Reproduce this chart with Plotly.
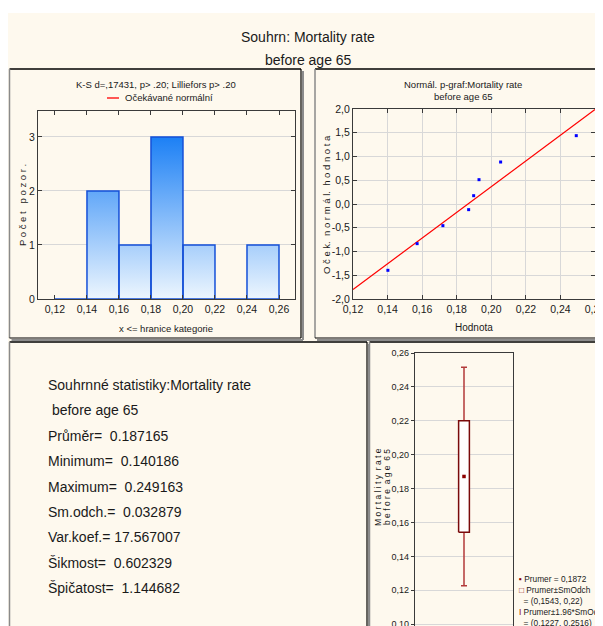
import plotly.graph_objects as go

# ---------------- data ----------------
bin_edges = [0.12, 0.14, 0.16, 0.18, 0.20, 0.22, 0.24, 0.26]
bin_counts = [0, 2, 1, 3, 1, 0, 1]

obs_values = [0.140186, 0.1571, 0.1720, 0.1869, 0.1898, 0.1929, 0.2054, 0.249163]
expected_normal = [-1.396, -0.835, -0.456, -0.119, 0.175, 0.512, 0.884, 1.439]
fit_line_x = [0.12, 0.26]
fit_line_y = [-1.80, 1.99]

stat_mean = 0.187165
stat_min = 0.140186
stat_max = 0.249163
stat_sd = 0.032879
stat_cv = 17.567007
stat_skew = 0.602329
stat_kurt = 1.144682

hist_xticks = [0.12, 0.14, 0.16, 0.18, 0.20, 0.22, 0.24, 0.26]
hist_yticks = [0, 1, 2, 3]
prob_yticks = [-2.0, -1.5, -1.0, -0.5, 0.0, 0.5, 1.0, 1.5, 2.0]
box_yticks = [0.10, 0.12, 0.14, 0.16, 0.18, 0.20, 0.22, 0.24, 0.26]

# ---------------- helpers ----------------
W, H = 603, 626
OFF = 8  # the page body adds an 8 px margin; positions below are window pixels
FONT = "Liberation Sans Narrow, Arial Narrow, Liberation Sans, Arial, sans-serif"
CREAM = "#FEF9EE"
TXT = "#1a1a1a"


def X(px):
    return (px - OFF) / W


def Y(py):
    return 1 - (py - OFF) / H


def comma(v, fmt):
    return format(v, fmt).replace(".", ",")


fig = go.Figure()
shapes = []
annotations = []

# page background
shapes.append(dict(type="rect", xref="paper", yref="paper", layer="below",
                   x0=X(8), x1=X(640), y0=Y(13), y1=Y(660),
                   fillcolor=CREAM, line=dict(width=0)))


def panel(x0, y0, x1, y1):
    shapes.append(dict(type="line", xref="paper", yref="paper", x0=X(x0), x1=X(x1), y0=Y(y0), y1=Y(y0),
                       line=dict(color="#000000", width=1.5)))
    shapes.append(dict(type="line", xref="paper", yref="paper", x0=X(x0), x1=X(x0), y0=Y(y0), y1=Y(y1),
                       line=dict(color="#8a8a8a", width=1.5)))
    shapes.append(dict(type="line", xref="paper", yref="paper", x0=X(x1 + 2), x1=X(x1 + 2), y0=Y(y0 + 2), y1=Y(y1 + 2),
                       line=dict(color="#8c8c8c", width=2)))
    shapes.append(dict(type="line", xref="paper", yref="paper", x0=X(x0 + 2), x1=X(x1 + 2), y0=Y(y1 + 2), y1=Y(y1 + 2),
                       line=dict(color="#8c8c8c", width=2)))
    shapes.append(dict(type="line", xref="paper", yref="paper", x0=X(x1), x1=X(x1), y0=Y(y0), y1=Y(y1),
                       line=dict(color="#000000", width=1.2)))
    shapes.append(dict(type="line", xref="paper", yref="paper", x0=X(x0), x1=X(x1), y0=Y(y1), y1=Y(y1),
                       line=dict(color="#000000", width=1.2)))


panel(9.5, 69, 301, 338)
panel(315, 69, 660, 338)
panel(9.5, 342, 367, 680)
panel(369.5, 342, 660, 680)


def text(px, py, s, size=11, xanchor="center", angle=0, color=TXT):
    annotations.append(dict(xref="paper", yref="paper", x=X(px), y=Y(py), text=s,
                            showarrow=False, xanchor=xanchor, yanchor="middle",
                            textangle=angle, font=dict(family=FONT, size=size, color=color)))


# main title
text(308, 37, "Souhrn: Mortality rate", size=14)
text(308, 60, "before age 65", size=14)

# ---------------- histogram ----------------
px_, py_ = [], []
for i, c in enumerate(bin_counts):
    l, r = bin_edges[i], bin_edges[i + 1]
    px_ += [l, l, r, r, l, None]
    py_ += [0, c, c, 0, 0, None]
fig.add_trace(go.Scatter(
    x=px_, y=py_, mode="lines", fill="toself",
    line=dict(color="#1550d8", width=1.5),
    fillgradient=dict(type="vertical", colorscale=[[0, "#edf6fe"], [1, "#1c80f5"]],
                      start=0, stop=max(bin_counts)),
    xaxis="x", yaxis="y", showlegend=False, hoverinfo="skip"))

text(156, 84, "K-S d=,17431, p> .20; Lilliefors p> .20", size=9.5)
shapes.append(dict(type="line", xref="paper", yref="paper", x0=X(107), x1=X(119), y0=Y(98), y1=Y(98),
                   line=dict(color="#ff2020", width=1.5)))
text(123, 98, "Očekávané normální", size=9.5, xanchor="left")
text(22, 205, "P o č e t   p o z o r .", size=9.5, angle=-90)
text(166, 328, "x <= hranice kategorie", size=9.5)

# ---------------- normal probability plot ----------------
fig.add_trace(go.Scatter(x=fit_line_x, y=fit_line_y, mode="lines",
                         line=dict(color="#ff0000", width=1.2),
                         xaxis="x2", yaxis="y2", showlegend=False, hoverinfo="skip"))
fig.add_trace(go.Scatter(x=obs_values, y=expected_normal, mode="markers",
                         marker=dict(color="#0000ff", size=3, symbol="square"),
                         xaxis="x2", yaxis="y2", showlegend=False))
text(463, 84, "Normál. p-graf:Mortality rate", size=9.5)
text(463, 96, "before age 65", size=9.5)
text(326, 205, "O č e k.  n o r m á l.  h o d n o t a", size=9.5, angle=-90)
text(474, 327, "Hodnota", size=10)

# ---------------- summary text ----------------
lines = [
    "Souhrnné statistiky:Mortality rate",
    " before age 65",
    f"Průměr=  {stat_mean:.6f}",
    f"Minimum=  {stat_min:.6f}",
    f"Maximum=  {stat_max:.6f}",
    f"Sm.odch.=  {stat_sd:.6f}",
    f"Var.koef.= {stat_cv:.6f}",
    f"Šikmost=  {stat_skew:.6f}",
    f"Špičatost=  {stat_kurt:.6f}",
]
for i, s in enumerate(lines):
    text(46, 385 + i * 25.4, s, size=14, xanchor="left")

# ---------------- box plot ----------------
box_lo = stat_mean - stat_sd
box_hi = stat_mean + stat_sd
wh_lo = stat_mean - 1.96 * stat_sd
wh_hi = stat_mean + 1.96 * stat_sd
bw = 0.11
fig.add_trace(go.Scatter(x=[0], y=[stat_mean], mode="markers", marker=dict(size=1, color="rgba(0,0,0,0)"),
                         error_y=dict(type="data", symmetric=False, array=[wh_hi - stat_mean],
                                      arrayminus=[stat_mean - wh_lo], color="#b23a3a", thickness=1.5, width=3),
                         xaxis="x3", yaxis="y3", showlegend=False, hoverinfo="skip"))
fig.add_trace(go.Scatter(x=[-bw / 2, -bw / 2, bw / 2, bw / 2, -bw / 2],
                         y=[box_lo, box_hi, box_hi, box_lo, box_lo],
                         mode="lines", fill="toself", fillcolor="#ffffff",
                         line=dict(color="#7a0a0a", width=1.5),
                         xaxis="x3", yaxis="y3", showlegend=False, hoverinfo="skip"))
fig.add_trace(go.Scatter(x=[0], y=[stat_mean], mode="markers",
                         marker=dict(color="#8b0000", size=3.5, symbol="square"),
                         xaxis="x3", yaxis="y3", showlegend=False))

text(378, 487, "M o r t a l i t y  r a t e", size=8.5, angle=-90)
text(387, 487, "b e f o r e  a g e  6 5", size=8.5, angle=-90)

RED = "#8b0000"
LS = 8.3
text(517, 579, f'<span style="color:{RED}">▪</span> Prumer = {comma(stat_mean, ".4f")}', size=LS, xanchor="left")
text(517, 590, f'<span style="color:{RED}">□</span> Prumer±SmOdch', size=LS, xanchor="left")
text(517, 601, f'  = ({comma(box_lo, ".4g")}, {comma(box_hi, ".4g")})', size=LS, xanchor="left")
text(517, 612, f'<span style="color:{RED}">I</span> Prumer±1.96*SmOdch', size=LS, xanchor="left")
text(517, 623, f'  = ({comma(wh_lo, ".4g")}, {comma(wh_hi, ".4g")})', size=LS, xanchor="left")

# ---------------- axes ----------------
axis_common = dict(showline=True, linecolor="#3a3a3a", linewidth=1.2, mirror="allticks",
                   ticks="inside", ticklen=4, tickcolor="#3a3a3a", zeroline=False, automargin=False,
                   tickfont=dict(family=FONT, size=10.5, color=TXT))

box_px_top, box_px_bot = 353, 634
box_step_px = 33.9  # pixels per 0.02 in the reference
box_ymin = 0.26 - (box_px_bot - box_px_top) / box_step_px * 0.02

fig.update_layout(
    template="none",
    width=W, height=H, margin=dict(l=0, r=0, t=0, b=0, pad=0, autoexpand=False),
    paper_bgcolor="#ffffff", plot_bgcolor="#ffffff",
    shapes=shapes, annotations=annotations, showlegend=False,
    xaxis=dict(domain=[X(38), X(295)], range=[0.1094, 0.27], anchor="y",
               tickvals=hist_xticks, ticktext=[comma(v, ".2f") for v in hist_xticks],
               showgrid=False, **axis_common),
    yaxis=dict(domain=[Y(299), Y(111)], range=[0, 3.48], anchor="x",
               tickvals=hist_yticks, ticktext=[str(v) for v in hist_yticks],
               showgrid=True, gridcolor="#d8d8d8", **axis_common),
    xaxis2=dict(domain=[X(353), X(595)], range=[0.12, 0.26], anchor="y2",
                tickvals=hist_xticks, ticktext=[comma(v, ".2f") for v in hist_xticks],
                showgrid=True, gridcolor="#d8d8d8", **axis_common),
    yaxis2=dict(domain=[Y(299), Y(109)], range=[-2, 2], anchor="x2",
                tickvals=prob_yticks, ticktext=[comma(v, ".1f") for v in prob_yticks],
                showgrid=True, gridcolor="#d8d8d8", **axis_common),
    xaxis3=dict(domain=[X(415), X(513)], range=[-0.5, 0.5], anchor="y3", automargin=False,
                showticklabels=False, showgrid=False, showline=True, linecolor="#3a3a3a",
                linewidth=1.2, mirror=True, ticks="", zeroline=False),
    yaxis3=dict(domain=[max(0.0, Y(box_px_bot)), Y(box_px_top)], range=[box_ymin, 0.26], anchor="x3",
                automargin=False,
                tickvals=box_yticks, ticktext=[comma(v, ".2f") for v in box_yticks],
                showgrid=True, gridcolor="#d8d8d8",
                showline=True, linecolor="#3a3a3a", linewidth=1.2, mirror=True,
                ticks="outside", ticklen=3, tickcolor="#3a3a3a", zeroline=False,
                tickfont=dict(family=FONT, size=9, color=TXT)),
)

fig.write_html("out.html")
